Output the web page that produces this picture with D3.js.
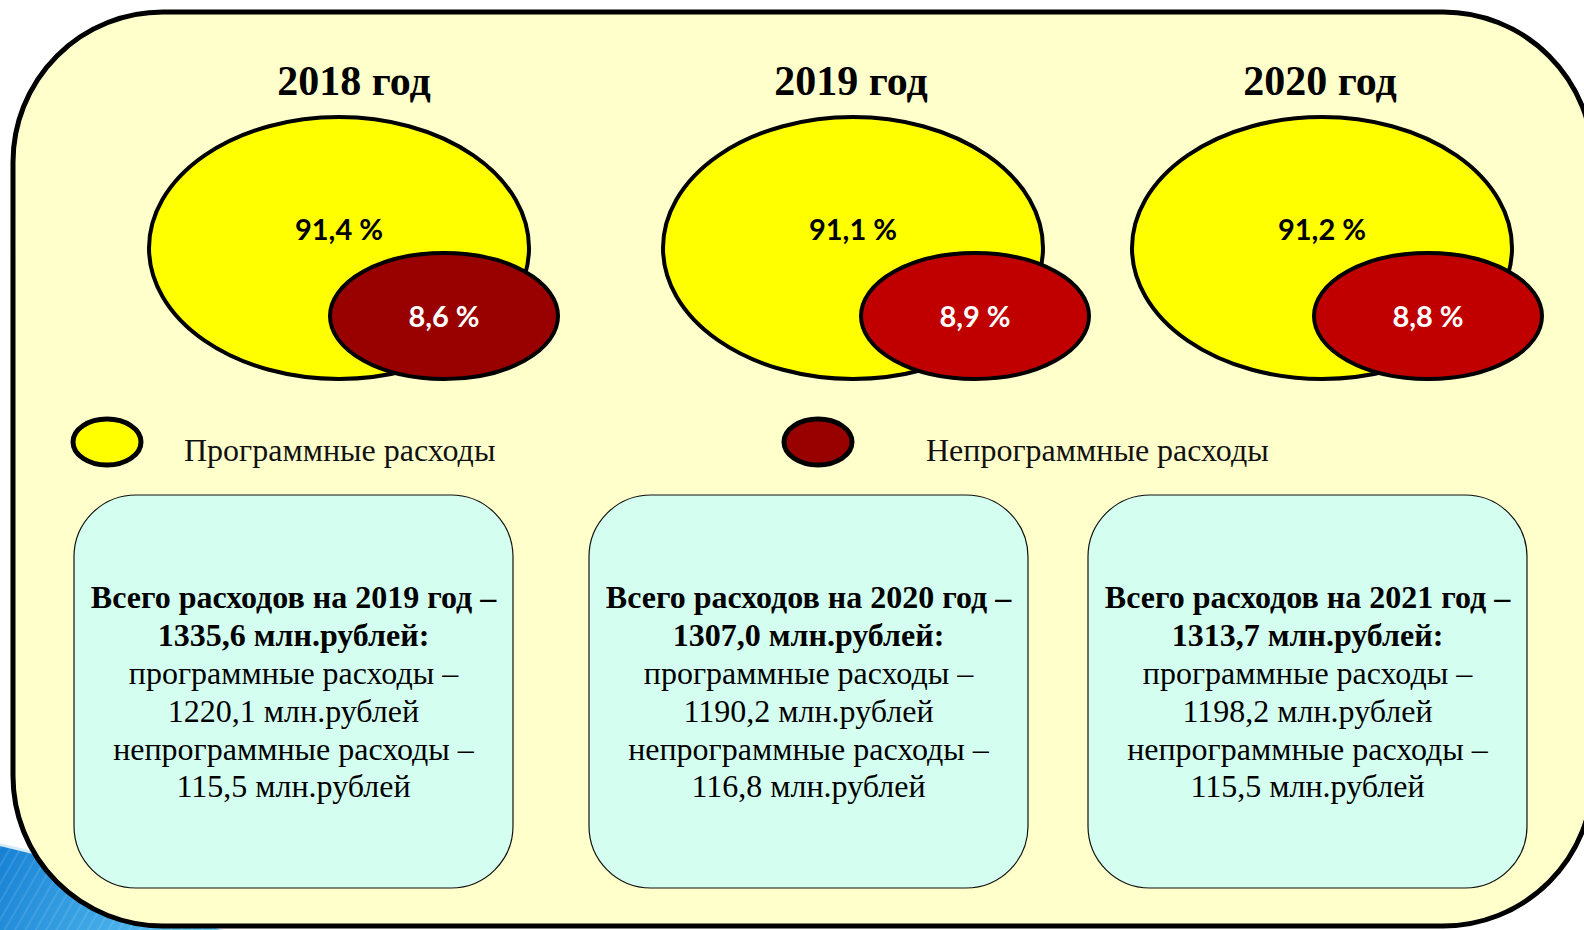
<!DOCTYPE html>
<html>
<head>
<meta charset="utf-8">
<script src="https://cdn.jsdelivr.net/npm/d3@7"></script>
<style>
  html, body { margin: 0; padding: 0; background: #fff; }
  svg { display: block; }
</style>
</head>
<body>
<div id="chart"></div>
<script>
// данные
const years = [2018, 2019, 2020];
const programShare = [91.4, 91.1, 91.2];
const nonProgramShare = [8.6, 8.9, 8.8];
const budgetYears = [2019, 2020, 2021];
const totalSpend = [1335.6, 1307.0, 1313.7];
const programSpend = [1220.1, 1190.2, 1198.2];
const nonProgramSpend = [115.5, 116.8, 115.5];
const legendLabels = ['Программные расходы', 'Непрограммные расходы'];

const width = 1584, height = 930;
const nonProgramColors = ['#990000', '#C00000', '#C00000'];

const ru = d3.formatLocale({decimal: ',', thousands: ' ', grouping: [3], currency: ['', ' руб.']});
const f1 = ru.format('.1f');

// шкалы положения
const xTitle = d3.scaleOrdinal().domain(years).range([354, 851, 1320]);
const xBig = d3.scaleOrdinal().domain(years).range([339, 853, 1322]);
const xSmall = d3.scaleOrdinal().domain(years).range([444, 975, 1428]);
const xBox = d3.scaleOrdinal().domain(budgetYears).range([74, 589, 1088]);

const svg = d3.select('#chart')
  .append('svg')
    .attr('width', width)
    .attr('height', height);

const defs = svg.append('defs');
const grad = defs.append('linearGradient')
    .attr('id', 'blueGrad')
    .attr('gradientUnits', 'userSpaceOnUse')
    .attr('x1', 0).attr('y1', 840).attr('x2', 200).attr('y2', 930);
grad.append('stop').attr('offset', '0%').attr('stop-color', '#1580d4');
grad.append('stop').attr('offset', '100%').attr('stop-color', '#62c8f4');

const stripes = defs.append('pattern')
    .attr('id', 'stripes')
    .attr('width', 9).attr('height', 9)
    .attr('patternUnits', 'userSpaceOnUse')
    .attr('patternTransform', 'rotate(30)');
stripes.append('line')
    .attr('x1', 1).attr('y1', -2).attr('x2', 1).attr('y2', 11)
    .attr('stroke', '#ffffff').attr('stroke-opacity', 0.14).attr('stroke-width', 1.5);

// синий уголок слева внизу
const cornerPath = 'M0,846 L45,857 L220,930 L0,930 Z';
svg.append('path')
    .attr('d', 'M0,843 L45,854 L224,930 L0,930 Z')
    .attr('fill', '#d6ecf9');
svg.append('path').attr('d', cornerPath).attr('fill', 'url(#blueGrad)');
svg.append('path').attr('d', cornerPath).attr('fill', 'url(#stripes)');

// основная панель
svg.append('rect')
    .attr('x', 13).attr('y', 12)
    .attr('width', 1580).attr('height', 914)
    .attr('rx', 150).attr('ry', 150)
    .attr('fill', '#FFFFCC')
    .attr('stroke', '#000')
    .attr('stroke-width', 5);

// эллипсы по годам
const groups = svg.selectAll('.year')
  .data(years)
  .join('g')
    .attr('class', 'year');

groups.append('text')
    .text(d => `${d} год`)
    .attr('x', d => xTitle(d))
    .attr('y', 95)
    .attr('text-anchor', 'middle')
    .style('font-family', '"Liberation Serif", "Times New Roman", serif')
    .style('font-weight', 700)
    .style('font-size', '42px');

groups.append('ellipse')
    .attr('cx', d => xBig(d))
    .attr('cy', 248)
    .attr('rx', 190)
    .attr('ry', 131)
    .attr('fill', '#FFFF00')
    .attr('stroke', '#000')
    .attr('stroke-width', 4);

groups.append('ellipse')
    .attr('cx', d => xSmall(d))
    .attr('cy', 316)
    .attr('rx', 114)
    .attr('ry', 63)
    .attr('fill', (d, i) => nonProgramColors[i])
    .attr('stroke', '#000')
    .attr('stroke-width', 4);

groups.append('text')
    .text((d, i) => `${f1(programShare[i])} %`)
    .attr('x', d => xBig(d))
    .attr('y', 240)
    .attr('text-anchor', 'middle')
    .attr('fill', '#000')
    .style('font-family', 'Lato, "Open Sans", sans-serif')
    .style('font-weight', 700)
    .style('font-size', '29px');

groups.append('text')
    .text((d, i) => `${f1(nonProgramShare[i])} %`)
    .attr('x', d => xSmall(d))
    .attr('y', 327)
    .attr('text-anchor', 'middle')
    .attr('fill', '#fff')
    .style('font-family', 'Lato, "Open Sans", sans-serif')
    .style('font-weight', 700)
    .style('font-size', '29px');

// легенда
const legendX = d3.scaleOrdinal().domain(legendLabels).range([107, 818]);
const legendTextX = d3.scaleOrdinal().domain(legendLabels).range([184, 926]);
const legendFill = d3.scaleOrdinal().domain(legendLabels).range(['#FFFF00', '#990000']);

const legend = svg.selectAll('.legend')
  .data(legendLabels)
  .join('g')
    .attr('class', 'legend');

legend.append('ellipse')
    .attr('cx', d => legendX(d))
    .attr('cy', 442)
    .attr('rx', 34)
    .attr('ry', 23)
    .attr('fill', d => legendFill(d))
    .attr('stroke', '#000')
    .attr('stroke-width', 5);

legend.append('text')
    .text(d => d)
    .attr('x', d => legendTextX(d))
    .attr('y', 461)
    .style('font-family', '"Liberation Serif", "Times New Roman", serif')
    .style('font-size', '32px')
    .attr('fill', '#111');

// блоки с суммами
const boxW = 439, boxH = 393, boxY = 495;
const boxes = svg.selectAll('.box')
  .data(budgetYears)
  .join('g')
    .attr('class', 'box');

boxes.append('rect')
    .attr('x', d => xBox(d))
    .attr('y', boxY)
    .attr('width', boxW)
    .attr('height', boxH)
    .attr('rx', 62).attr('ry', 62)
    .attr('fill', '#D4FFF0')
    .attr('stroke', '#111')
    .attr('stroke-width', 1.2);

const lineY = [608, 646, 684, 722, 760, 797];

boxes.each(function(d, i) {
  const lines = [
    {t: `Всего расходов на ${d} год –`, b: true},
    {t: `${f1(totalSpend[i])} млн.рублей:`, b: true},
    {t: 'программные расходы –', b: false},
    {t: `${f1(programSpend[i])} млн.рублей`, b: false},
    {t: 'непрограммные расходы –', b: false},
    {t: `${f1(nonProgramSpend[i])} млн.рублей`, b: false}
  ];
  d3.select(this).selectAll('text')
    .data(lines)
    .join('text')
      .text(l => l.t)
      .attr('x', xBox(d) + boxW / 2)
      .attr('y', (l, j) => lineY[j])
      .attr('text-anchor', 'middle')
      .attr('fill', '#000')
      .style('font-family', '"Liberation Serif", "Times New Roman", serif')
      .style('font-weight', l => l.b ? 700 : 400)
      .style('font-size', '32px');
});
</script>
</body>
</html>
